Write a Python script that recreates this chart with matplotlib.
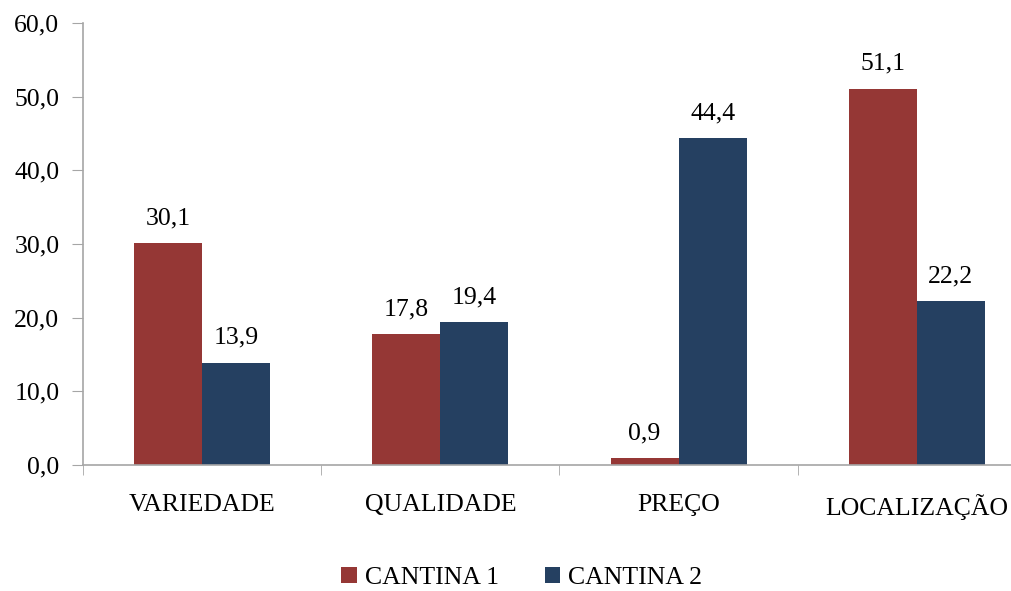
import numpy as np
import matplotlib

matplotlib.use("Agg")
import matplotlib.pyplot as plt  # noqa: E402
from matplotlib.ticker import FixedLocator  # noqa: E402

plt.rcParams["font.family"] = ["Liberation Serif", "DejaVu Serif"]

categories = ["VARIEDADE", "QUALIDADE", "PREÇO", "LOCALIZAÇÃO"]
cantina1 = [30.1, 17.8, 0.9, 51.1]
cantina2 = [13.9, 19.4, 44.4, 22.2]
series_names = ["CANTINA 1", "CANTINA 2"]

RED, BLUE, GREY = "#953735", "#254061", "#a6a6a6"
FS = 18.5

fig = plt.figure(figsize=(10.11, 5.91), dpi=100)
# plot area runs past the right edge (reference is cropped there)
ax = fig.add_axes([0.0821, 0.2132, 0.9426, 0.7479])

x = np.arange(len(categories))
w = 0.2857
b1 = ax.bar(x - w / 2, cantina1, w, color=RED, label=series_names[0])
b2 = ax.bar(x + w / 2, cantina2, w, color=BLUE, label=series_names[1])

for bars, vals in ((b1, cantina1), (b2, cantina2)):
    for r, v in zip(bars, vals):
        ax.annotate(f"{v:.1f}".replace(".", ","),
                    (r.get_x() + r.get_width() / 2, v),
                    xytext=(0, 10), textcoords="offset points",
                    ha="center", va="bottom", fontsize=FS)

ax.set_xlim(-0.5, len(categories) - 0.5)
ax.set_ylim(0, 60)
ax.set_yticks(np.arange(0, 61, 10))
ax.set_yticklabels([f"{t:.1f}".replace(".", ",") for t in np.arange(0, 61, 10)])

ax.set_xticks(x)
ax.set_xticklabels(categories)
ax.xaxis.set_minor_locator(FixedLocator(np.arange(-0.5, len(categories), 1.0)))
ax.tick_params(axis="x", which="major", length=0, pad=21, labelsize=FS)
ax.tick_params(axis="x", which="minor", length=7, color=GREY, direction="out")
ax.tick_params(axis="y", length=8, color=GREY, pad=9, labelsize=FS)

for s in ("top", "right"):
    ax.spines[s].set_visible(False)
for s in ("left", "bottom"):
    ax.spines[s].set_color(GREY)
    ax.spines[s].set_linewidth(1.2)

fig.legend(loc="center", bbox_to_anchor=(0.516, 0.022), ncol=2, frameon=False,
           fontsize=FS, handlelength=0.6, handleheight=0.6, handletextpad=0.3,
           columnspacing=1.8)

fig.savefig("out.png", dpi=100)
